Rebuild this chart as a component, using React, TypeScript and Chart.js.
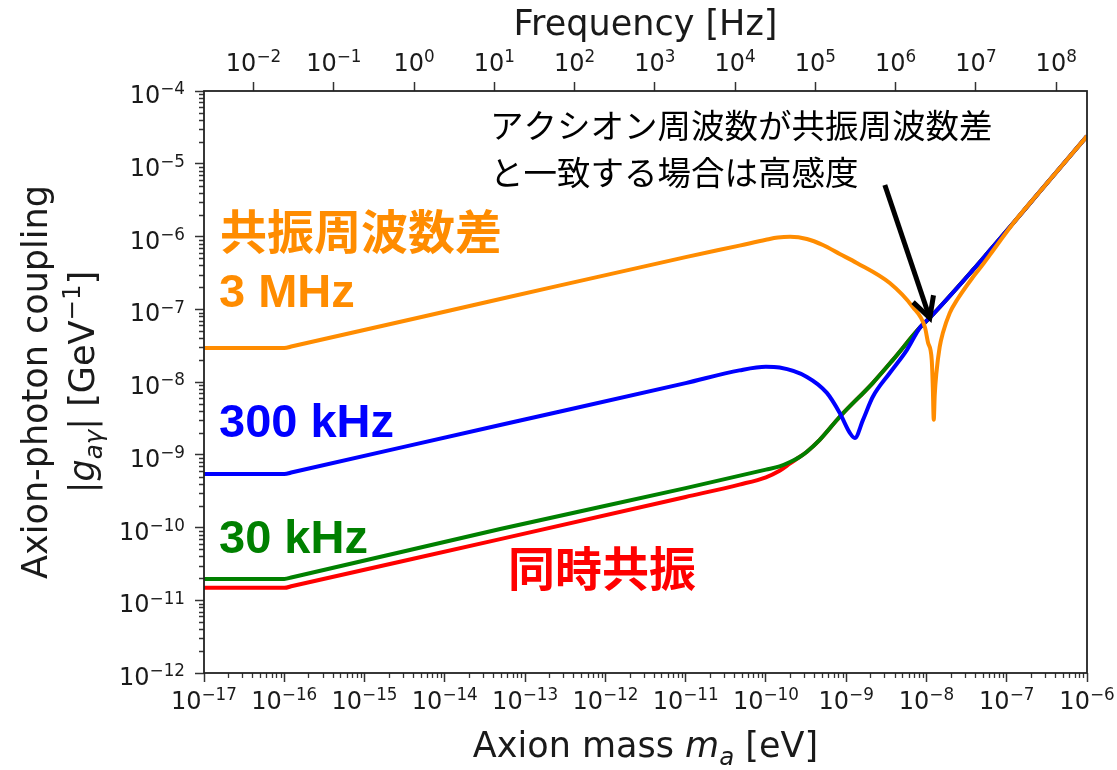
import React, { useEffect, useRef } from 'react';
import { Chart, registerables } from 'chart.js';

Chart.register(...registerables);

// ---------- constants ----------
const EV_TO_HZ = 2.418e14;
const MASS_MIN = 1e-17;
const MASS_MAX = 1e-6;
const G_MIN = 1e-12;
const G_MAX = 1e-4;

const MASS_TICK_EXP = [-17, -16, -15, -14, -13, -12, -11, -10, -9, -8, -7, -6];
const MASS_TICK_LABELS = ['10^−17', '10^−16', '10^−15', '10^−14', '10^−13', '10^−12', '10^−11', '10^−10', '10^−9', '10^−8', '10^−7', '10^−6'];
const G_TICK_EXP = [-12, -11, -10, -9, -8, -7, -6, -5, -4];
const G_TICK_LABELS = ['10^−12', '10^−11', '10^−10', '10^−9', '10^−8', '10^−7', '10^−6', '10^−5', '10^−4'];
const FREQ_TICK_EXP = [-2, -1, 0, 1, 2, 3, 4, 5, 6, 7, 8];
const FREQ_TICK_LABELS = ['10^−2', '10^−1', '10^0', '10^1', '10^2', '10^3', '10^4', '10^5', '10^6', '10^7', '10^8'];
const MINOR_MULTIPLES = [2, 3, 4, 5, 6, 7, 8, 9];

// ---------- series (mass [eV], coupling [GeV^-1]) ----------
// 3 MHz (orange)
const MASS_3MHZ = [1e-17, 1e-16, 1.26e-16, 4.9e-14, 1e-11, 4.68e-11, 1e-10, 1.41e-10, 2.0e-10, 3.24e-10, 5.13e-10, 8.32e-10, 1.355e-9, 3.49e-9, 6.76e-9, 9.55e-9, 1.047e-8, 1.164e-8, 1.2e-8, 1.233e-8, 1.268e-8, 1.33e-8, 1.46e-8, 1.6e-8, 1.95e-8, 2.4e-8, 3.8e-8, 5.0e-8, 6.17e-8, 1.26e-7, 2.51e-7, 1e-6];
const G_3MHZ = [2.93e-8, 2.93e-8, 3.1e-8, 1.38e-7, 5.21e-7, 7.5e-7, 9.0e-7, 9.66e-7, 9.89e-7, 9.25e-7, 7.64e-7, 5.75e-7, 4.33e-7, 2.29e-7, 1.07e-7, 5.7e-8, 3.47e-8, 2.0e-8, 8.5e-9, 3.02e-9, 6.6e-9, 1.33e-8, 3.02e-8, 4.71e-8, 8.9e-8, 1.34e-7, 2.77e-7, 4.07e-7, 5.6e-7, 1.62e-6, 3.99e-6, 2.4e-5];

// 300 kHz (blue)
const MASS_300KHZ = [1e-17, 1e-16, 1.26e-16, 4.9e-14, 1e-11, 4.68e-11, 1e-10, 1.48e-10, 3.24e-10, 5.75e-10, 8.32e-10, 1.11e-9, 1.28e-9, 1.62e-9, 2.14e-9, 3.49e-9, 5.69e-9, 8.32e-9, 1.096e-8, 3.8e-8, 6.17e-8, 1.26e-7, 2.51e-7, 1e-6];
const G_300KHZ = [5.43e-10, 5.43e-10, 5.75e-10, 2.57e-9, 9.66e-9, 1.445e-8, 1.62e-8, 1.58e-8, 1.175e-8, 7.08e-9, 3.75e-9, 2.0e-9, 1.7e-9, 3.02e-9, 6.22e-9, 1.33e-8, 2.75e-8, 5.62e-8, 7.59e-8, 3.47e-7, 6.46e-7, 1.62e-6, 3.99e-6, 2.4e-5];

// 30 kHz (green)
const MASS_30KHZ = [1e-17, 1e-16, 1.26e-16, 4.9e-14, 1e-11, 1e-10, 1.48e-10, 2e-10, 2.63e-10, 3.24e-10, 4.68e-10, 8.32e-10, 2.14e-9, 3.8e-9, 8.32e-9, 1.096e-8, 3.8e-8, 6.17e-8, 1.26e-7, 2.51e-7, 1e-6];
const G_30KHZ = [1.96e-11, 1.96e-11, 2.07e-11, 9.55e-11, 3.48e-10, 6.24e-10, 6.92e-10, 7.94e-10, 9.33e-10, 1.1e-9, 1.6e-9, 3.33e-9, 9.68e-9, 2.0e-8, 5.62e-8, 7.59e-8, 3.47e-7, 6.46e-7, 1.62e-6, 3.99e-6, 2.4e-5];

// simultaneous resonance (red)
const MASS_SIM = [1e-17, 1e-16, 1.26e-16, 4.9e-14, 1e-11, 4.68e-11, 1e-10, 1.48e-10, 2e-10, 2.63e-10, 3.24e-10, 4.68e-10, 8.32e-10, 2.14e-9, 3.8e-9, 8.32e-9, 1.096e-8, 3.8e-8, 6.17e-8, 1.26e-7, 2.51e-7, 1e-6];
const G_SIM = [1.48e-11, 1.48e-11, 1.57e-11, 6.92e-11, 2.63e-10, 3.89e-10, 4.9e-10, 6.03e-10, 7.59e-10, 9.33e-10, 1.1e-9, 1.6e-9, 3.33e-9, 9.68e-9, 2.0e-8, 5.62e-8, 7.59e-8, 3.47e-7, 6.46e-7, 1.62e-6, 3.99e-6, 2.4e-5];

// arrow (data coordinates): from tail to tip
const ARROW_MASS = [3.03e-9, 1.1e-8];
const ARROW_G = [5.1e-6, 7.59e-8];

// ---------- styles ----------
const ORANGE = '#ff8c00';
const BLUE = '#0000ff';
const GREEN = '#008000';
const RED = '#ff0000';
const INK = '#1a1a1a';
const MPL_FONT = '"DejaVu Sans", sans-serif';
const CJK_FONT = '"Noto Sans CJK JP", sans-serif';
const BOLD_LATIN = '"Liberation Sans", Arial, sans-serif';

const TEXT_LABELS = [
  { text: '共振周波数差', color: ORANGE, font: `bold 47px ${CJK_FONT}`, x: 220, y: 249 },
  { text: '3 MHz', color: ORANGE, font: `bold 47px ${BOLD_LATIN}`, x: 219, y: 307 },
  { text: '300 kHz', color: BLUE, font: `bold 47px ${BOLD_LATIN}`, x: 219, y: 437 },
  { text: '30 kHz', color: GREEN, font: `bold 47px ${BOLD_LATIN}`, x: 219, y: 553 },
  { text: '同時共振', color: RED, font: `bold 47px ${CJK_FONT}`, x: 508, y: 586 },
  { text: 'アクシオン周波数が共振周波数差', color: '#000', font: `33.5px ${CJK_FONT}`, x: 490, y: 138 },
  { text: 'と一致する場合は高感度', color: '#000', font: `33.5px ${CJK_FONT}`, x: 490, y: 185 },
];

type Seg = { t: string; it?: boolean; sub?: boolean; sup?: boolean };

const X_TITLE: Seg[] = [{ t: 'Axion mass ' }, { t: 'm', it: true }, { t: 'a', it: true, sub: true }, { t: ' [eV]' }];
const X2_TITLE: Seg[] = [{ t: 'Frequency [Hz]' }];
const Y_TITLE_1: Seg[] = [{ t: 'Axion-photon coupling' }];
const Y_TITLE_2: Seg[] = [
  { t: '|' }, { t: 'g', it: true }, { t: 'aγ', it: true, sub: true }, { t: '| [GeV' }, { t: '−1', sup: true }, { t: ']' },
];

const TITLE_SIZE = 35;
const TICK_SIZE = 24;

function segFont(s: Seg, size: number) {
  const sz = s.sub || s.sup ? size * 0.7 : size;
  return `${s.it ? 'italic ' : ''}${sz}px ${MPL_FONT}`;
}

function drawRich(ctx: CanvasRenderingContext2D, segs: Seg[], cx: number, baseline: number, size: number) {
  ctx.textAlign = 'left';
  ctx.textBaseline = 'alphabetic';
  const widths = segs.map((s) => {
    ctx.font = segFont(s, size);
    return ctx.measureText(s.t).width;
  });
  const total = widths.reduce((a, b) => a + b, 0);
  let x = cx - total / 2;
  segs.forEach((s, i) => {
    ctx.font = segFont(s, size);
    const dy = s.sub ? size * 0.22 : s.sup ? -size * 0.4 : 0;
    ctx.fillText(s.t, x, baseline + dy);
    x += widths[i];
  });
}

// tick label "10^e" in mathtext style
function drawPow(ctx: CanvasRenderingContext2D, label: string, x: number, baseline: number, align: 'center' | 'right') {
  const [base, exp] = label.split('^');
  ctx.textAlign = 'left';
  ctx.textBaseline = 'alphabetic';
  ctx.font = `${TICK_SIZE}px ${MPL_FONT}`;
  const wb = ctx.measureText(base).width;
  ctx.font = `${TICK_SIZE * 0.7}px ${MPL_FONT}`;
  const we = ctx.measureText(exp).width;
  const total = wb + we;
  const x0 = align === 'center' ? x - total / 2 : x - total;
  ctx.font = `${TICK_SIZE}px ${MPL_FONT}`;
  ctx.fillText(base, x0, baseline);
  ctx.font = `${TICK_SIZE * 0.7}px ${MPL_FONT}`;
  ctx.fillText(exp, x0 + wb, baseline - TICK_SIZE * 0.36);
}

const decorPlugin = {
  id: 'decor',
  afterDraw(chart: any) {
    const ctx: CanvasRenderingContext2D = chart.ctx;
    const { left, right, top, bottom } = chart.chartArea;
    const xs = chart.scales.x;
    const x2s = chart.scales.x2;
    const ys = chart.scales.y;
    ctx.save();

    // minor ticks
    ctx.strokeStyle = '#333';
    ctx.lineWidth = 1.3;
    ctx.beginPath();
    MASS_TICK_EXP.slice(0, -1).forEach((e) => {
      MINOR_MULTIPLES.forEach((k) => {
        const px = Math.round(xs.getPixelForValue(k * Math.pow(10, e))) + 0.5;
        ctx.moveTo(px, bottom);
        ctx.lineTo(px, bottom + 5);
      });
    });
    G_TICK_EXP.slice(0, -1).forEach((e) => {
      MINOR_MULTIPLES.forEach((k) => {
        const py = Math.round(ys.getPixelForValue(k * Math.pow(10, e))) + 0.5;
        ctx.moveTo(left, py);
        ctx.lineTo(left - 5, py);
      });
    });
    ctx.stroke();

    // frame
    ctx.strokeStyle = '#222';
    ctx.lineWidth = 1.8;
    ctx.strokeRect(left, top, right - left, bottom - top);

    // tick labels
    ctx.fillStyle = INK;
    MASS_TICK_EXP.forEach((e, i) => {
      drawPow(ctx, MASS_TICK_LABELS[i], xs.getPixelForValue(Math.pow(10, e)), bottom + 36, 'center');
    });
    FREQ_TICK_EXP.forEach((e, i) => {
      drawPow(ctx, FREQ_TICK_LABELS[i], x2s.getPixelForValue(Math.pow(10, e)), top - 20, 'center');
    });
    G_TICK_EXP.forEach((e, i) => {
      drawPow(ctx, G_TICK_LABELS[i], left - 19, ys.getPixelForValue(Math.pow(10, e)) + 12, 'right');
    });

    // axis titles
    const cx = (left + right) / 2;
    const cy = (top + bottom) / 2;
    drawRich(ctx, X2_TITLE, cx, 35, TITLE_SIZE);
    drawRich(ctx, X_TITLE, cx, 757, TITLE_SIZE);
    ctx.save();
    ctx.translate(47, cy);
    ctx.rotate(-Math.PI / 2);
    drawRich(ctx, Y_TITLE_1, 0, 0, TITLE_SIZE);
    ctx.restore();
    ctx.save();
    ctx.translate(94, cy);
    ctx.rotate(-Math.PI / 2);
    drawRich(ctx, Y_TITLE_2, 0, 0, TITLE_SIZE);
    ctx.restore();

    // text labels
    ctx.textAlign = 'left';
    ctx.textBaseline = 'alphabetic';
    TEXT_LABELS.forEach((l) => {
      ctx.font = l.font;
      ctx.fillStyle = l.color;
      ctx.fillText(l.text, l.x, l.y);
    });

    // arrow
    const x0 = xs.getPixelForValue(ARROW_MASS[0]);
    const y0 = ys.getPixelForValue(ARROW_G[0]);
    const x1 = xs.getPixelForValue(ARROW_MASS[1]);
    const y1 = ys.getPixelForValue(ARROW_G[1]);
    const ang = Math.atan2(y0 - y1, x0 - x1);
    const headLen = 23;
    const spread = (28 * Math.PI) / 180;
    ctx.strokeStyle = '#000';
    ctx.lineWidth = 5;
    ctx.lineCap = 'butt';
    ctx.lineJoin = 'miter';
    ctx.beginPath();
    ctx.moveTo(x0, y0);
    ctx.lineTo(x1, y1);
    ctx.stroke();
    ctx.beginPath();
    ctx.moveTo(x1 + headLen * Math.cos(ang + spread), y1 + headLen * Math.sin(ang + spread));
    ctx.lineTo(x1, y1);
    ctx.lineTo(x1 + headLen * Math.cos(ang - spread), y1 + headLen * Math.sin(ang - spread));
    ctx.stroke();

    ctx.restore();
  },
};

function toPoints(ms: number[], gs: number[]) {
  return ms.map((m, i) => ({ x: m, y: gs[i] }));
}

const tickGrid = { drawOnChartArea: false, drawTicks: true, tickLength: 9, tickWidth: 1.5, tickColor: '#333' };

export default function App() {
  const ref = useRef<HTMLCanvasElement | null>(null);

  useEffect(() => {
    if (!ref.current) return;
    const lineStyle = {
      borderWidth: 4,
      pointRadius: 0,
      fill: false,
      cubicInterpolationMode: 'monotone' as const,
      clip: 0,
    };
    const chart = new Chart(ref.current, {
      type: 'line',
      data: {
        datasets: [
          { label: '3 MHz', data: toPoints(MASS_3MHZ, G_3MHZ), borderColor: ORANGE, ...lineStyle },
          { label: '300 kHz', data: toPoints(MASS_300KHZ, G_300KHZ), borderColor: BLUE, ...lineStyle },
          { label: '30 kHz', data: toPoints(MASS_30KHZ, G_30KHZ), borderColor: GREEN, ...lineStyle },
          { label: '同時共振', data: toPoints(MASS_SIM, G_SIM), borderColor: RED, ...lineStyle },
        ],
      },
      options: {
        animation: false,
        responsive: false,
        devicePixelRatio: 1,
        parsing: false as any,
        layout: { padding: { left: 0, right: 30, top: 0, bottom: 0 } },
        plugins: { legend: { display: false }, tooltip: { enabled: false }, title: { display: false } },
        scales: {
          x: {
            type: 'logarithmic',
            position: 'bottom',
            min: MASS_MIN,
            max: MASS_MAX,
            afterBuildTicks: (s: any) => {
              s.ticks = MASS_TICK_EXP.map((e) => ({ value: Math.pow(10, e) }));
            },
            afterFit: (s: any) => {
              s.height = 97;
            },
            ticks: { display: false, autoSkip: false },
            grid: tickGrid,
            border: { display: false },
          },
          x2: {
            type: 'logarithmic',
            position: 'top',
            min: MASS_MIN * EV_TO_HZ,
            max: MASS_MAX * EV_TO_HZ,
            afterBuildTicks: (s: any) => {
              s.ticks = FREQ_TICK_EXP.map((e) => ({ value: Math.pow(10, e) }));
            },
            afterFit: (s: any) => {
              s.height = 91;
            },
            ticks: { display: false, autoSkip: false },
            grid: tickGrid,
            border: { display: false },
          },
          y: {
            type: 'logarithmic',
            position: 'left',
            min: G_MIN,
            max: G_MAX,
            afterBuildTicks: (s: any) => {
              s.ticks = G_TICK_EXP.map((e) => ({ value: Math.pow(10, e) }));
            },
            afterFit: (s: any) => {
              s.width = 204;
            },
            ticks: { display: false, autoSkip: false },
            grid: tickGrid,
            border: { display: false },
          },
        },
      } as any,
      plugins: [decorPlugin],
    });
    return () => chart.destroy();
  }, []);

  return (
    <div style={{ position: 'absolute', left: 0, top: 0, width: 1117, height: 770, background: '#fff' }}>
      <canvas ref={ref} width={1117} height={770} />
    </div>
  );
}
